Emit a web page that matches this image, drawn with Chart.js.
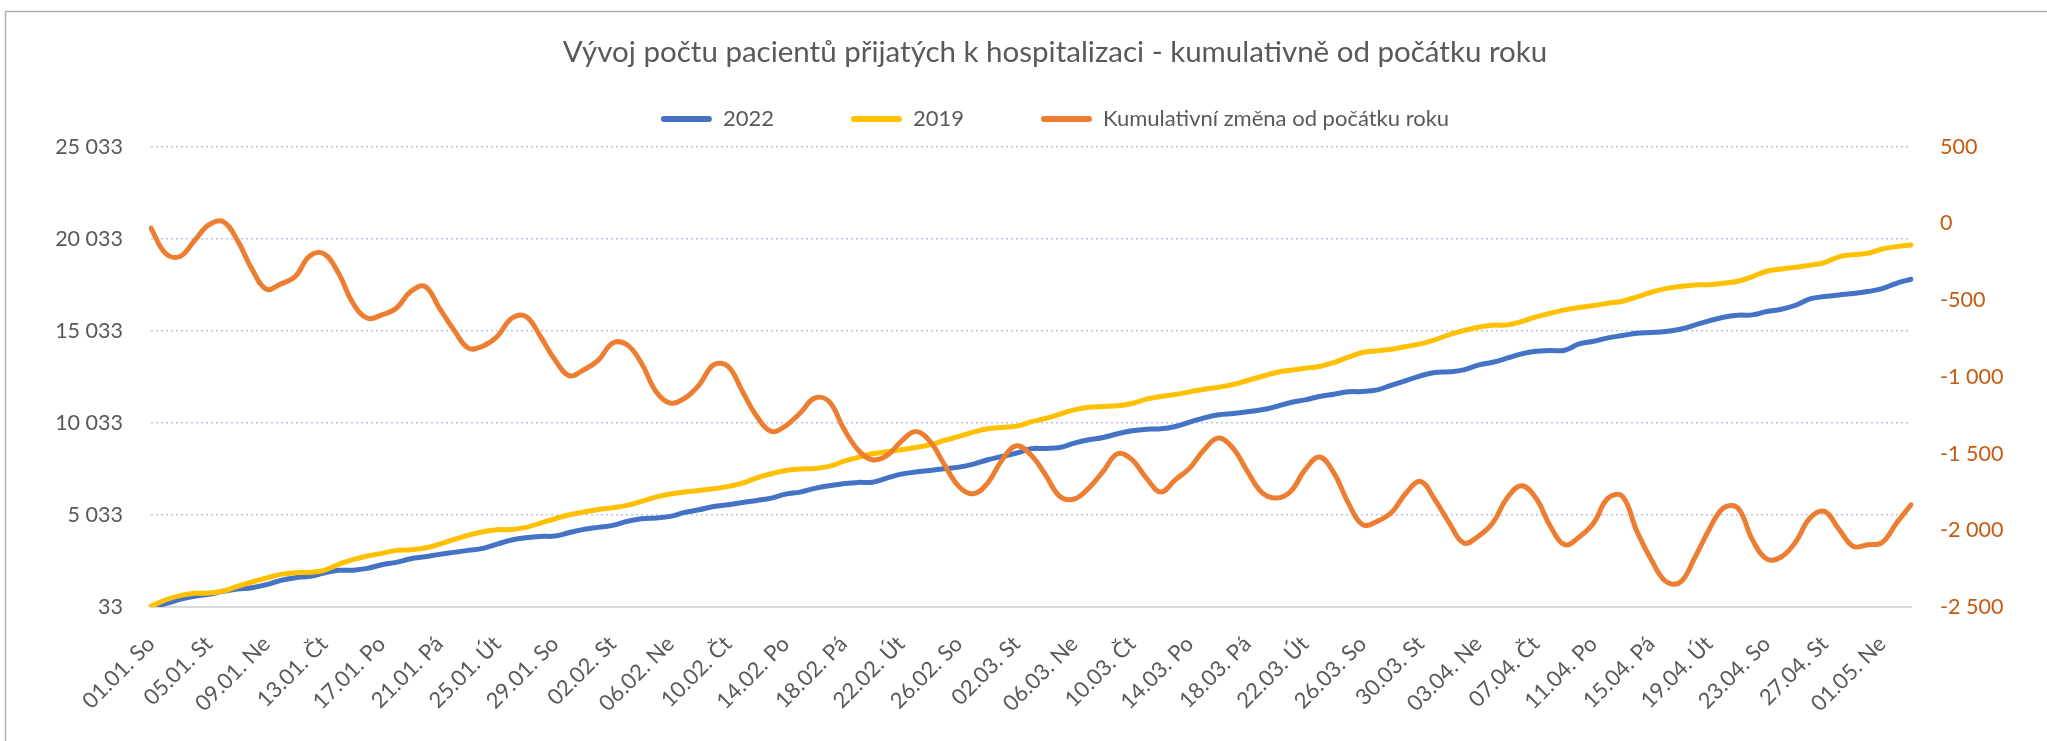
<!DOCTYPE html>
<html lang="cs">
<head>
<meta charset="utf-8">
<script src="https://cdn.jsdelivr.net/npm/chart.js@4.4.1/dist/chart.umd.min.js"></script>
<style>
  html, body { margin: 0; padding: 0; background: #fff; overflow: hidden; }
  #box { width: 2047px; height: 741px; position: relative; }
</style>
</head>
<body>
<div id="box"><canvas id="myChart"></canvas></div>
<script>
// dny 01.01. - 03.05.
const dny = [
  "01.01. So","02.01. Ne","03.01. Po","04.01. Út","05.01. St","06.01. Čt","07.01. Pá","08.01. So","09.01. Ne","10.01. Po",
  "11.01. Út","12.01. St","13.01. Čt","14.01. Pá","15.01. So","16.01. Ne","17.01. Po","18.01. Út","19.01. St","20.01. Čt",
  "21.01. Pá","22.01. So","23.01. Ne","24.01. Po","25.01. Út","26.01. St","27.01. Čt","28.01. Pá","29.01. So","30.01. Ne",
  "31.01. Po","01.02. Út","02.02. St","03.02. Čt","04.02. Pá","05.02. So","06.02. Ne","07.02. Po","08.02. Út","09.02. St",
  "10.02. Čt","11.02. Pá","12.02. So","13.02. Ne","14.02. Po","15.02. Út","16.02. St","17.02. Čt","18.02. Pá","19.02. So",
  "20.02. Ne","21.02. Po","22.02. Út","23.02. St","24.02. Čt","25.02. Pá","26.02. So","27.02. Ne","28.02. Po","01.03. Út",
  "02.03. St","03.03. Čt","04.03. Pá","05.03. So","06.03. Ne","07.03. Po","08.03. Út","09.03. St","10.03. Čt","11.03. Pá",
  "12.03. So","13.03. Ne","14.03. Po","15.03. Út","16.03. St","17.03. Čt","18.03. Pá","19.03. So","20.03. Ne","21.03. Po",
  "22.03. Út","23.03. St","24.03. Čt","25.03. Pá","26.03. So","27.03. Ne","28.03. Po","29.03. Út","30.03. St","31.03. Čt",
  "01.04. Pá","02.04. So","03.04. Ne","04.04. Po","05.04. Út","06.04. St","07.04. Čt","08.04. Pá","09.04. So","10.04. Ne",
  "11.04. Po","12.04. Út","13.04. St","14.04. Čt","15.04. Pá","16.04. So","17.04. Ne","18.04. Po","19.04. Út","20.04. St",
  "21.04. Čt","22.04. Pá","23.04. So","24.04. Ne","25.04. Po","26.04. Út","27.04. St","28.04. Čt","29.04. Pá","30.04. So",
  "01.05. Ne","02.05. Po","03.05. Út"
];

// kumulativni pocty 2022
const rok2022 = [
  40,214,449,612,720,883,1010,1082,1245,1480,
  1625,1697,1878,2023,2035,2131,2330,2457,2656,2765,
  2891,3000,3108,3217,3452,3669,3796,3868,3886,4080,
  4250,4357,4465,4682,4827,4863,4953,5171,5315,5496,
  5587,5713,5822,5948,6166,6274,6473,6618,6726,6799,
  6810,7034,7251,7360,7450,7541,7631,7794,8029,8210,
  8390,8626,8644,8698,8933,9114,9241,9440,9603,9693,
  9711,9838,10073,10308,10471,10543,10634,10742,10923,11140,
  11285,11466,11592,11719,11737,11828,12081,12334,12587,12768,
  12804,12913,13170,13329,13546,13781,13926,13962,13980,14324,
  14469,14650,14776,14903,14939,14993,15120,15337,15572,15771,
  15880,15898,16079,16205,16422,16766,16893,16983,17055,17164,
  17327,17616,17834
];

// kumulativni pocty 2019
const rok2019 = [
  72,413,648,775,790,901,1155,1390,1607,1806,
  1896,1914,2023,2349,2602,2801,2946,3108,3145,3235,
  3452,3705,3940,4121,4230,4240,4357,4592,4827,5044,
  5189,5333,5424,5550,5768,6003,6166,6274,6365,6455,
  6582,6763,7052,7269,7450,7522,7558,7667,7938,8155,
  8354,8463,8571,8698,8843,9078,9295,9530,9711,9784,
  9856,10091,10272,10507,10742,10887,10923,10959,11086,11321,
  11466,11574,11719,11864,11972,12117,12334,12551,12768,12895,
  13004,13094,13311,13601,13854,13944,14035,14180,14324,14541,
  14831,15048,15229,15337,15355,15536,15789,15988,16169,16296,
  16404,16531,16640,16875,17128,17327,17436,17526,17540,17617,
  17725,17978,18268,18394,18485,18593,18738,19046,19172,19245,
  19480,19606,19697
];

// kumulativni zmena od pocatku roku (prava osa)
const zmena = [
  -31,-194,-216,-114,-10,12,-112,-298,-429,-394,
  -346,-212,-199,-325,-520,-618,-596,-553,-444,-411,
  -553,-694,-813,-800,-737,-618,-607,-737,-889,-993,
  -954,-893,-780,-791,-911,-1095,-1171,-1139,-1052,-922,
  -932,-1095,-1258,-1356,-1319,-1236,-1139,-1160,-1334,-1475,
  -1540,-1514,-1421,-1356,-1421,-1573,-1714,-1762,-1692,-1540,
  -1449,-1510,-1638,-1779,-1796,-1725,-1616,-1501,-1540,-1660,
  -1751,-1671,-1595,-1475,-1399,-1464,-1616,-1753,-1790,-1747,
  -1605,-1523,-1627,-1823,-1964,-1942,-1883,-1757,-1681,-1801,
  -1953,-2083,-2040,-1953,-1790,-1710,-1790,-1974,-2094,-2044,
  -1953,-1790,-1779,-2007,-2192,-2333,-2339,-2181,-1996,-1855,
  -1855,-2061,-2187,-2174,-2076,-1920,-1877,-1992,-2105,-2094,
  -2079,-1953,-1834
];

// osy
const levaOsa = [33, 5033, 10033, 15033, 20033, 25033];
const pravaOsa = [-2500, -2000, -1500, -1000, -500, 0, 500];

const sedy = "#595959";
const pismo = "Lato";

function mezery(n) {
  return String(n).replace(/\B(?=(\d{3})+(?!\d))/g, " ");
}

// bile pozadi a ramecek grafu
const ramecek = {
  id: "ramecek",
  beforeDraw(chart) {
    const c = chart.ctx;
    c.save();
    c.fillStyle = "#fff";
    c.fillRect(0, 0, chart.width, chart.height);
    c.strokeStyle = "#b0b0b0";
    c.lineWidth = 1.5;
    c.strokeRect(5.5, 11.5, chart.width + 20, chart.height + 20);
    c.restore();
  }
};

const grafica = document.getElementById("myChart").getContext("2d");

const myChart = new Chart(grafica, {
  type: "line",
  data: {
    labels: dny,
    datasets: [
      {
        label: "2022",
        data: rok2022,
        yAxisID: "y",
        borderColor: "#4472C4",
        backgroundColor: "#4472C4",
        borderWidth: 5,
        order: 3
      },
      {
        label: "2019",
        data: rok2019,
        yAxisID: "y",
        borderColor: "#FFC000",
        backgroundColor: "#FFC000",
        borderWidth: 5,
        order: 2
      },
      {
        label: "Kumulativní změna od počátku roku",
        data: zmena,
        yAxisID: "y2",
        borderColor: "#ED7D31",
        backgroundColor: "#ED7D31",
        borderWidth: 5,
        order: 1
      }
    ]
  },
  options: {
    responsive: true,
    maintainAspectRatio: false,
    animation: false,
    // zaporny pravy okraj posouva stred titulku doprava
    layout: { padding: { left: 20, right: -43, top: 0, bottom: 0 } },
    elements: {
      point: { radius: 0 },
      line: { tension: 0.4, borderCapStyle: "round", borderJoinStyle: "round" }
    },
    plugins: {
      title: {
        display: true,
        text: "Vývoj počtu pacientů přijatých k hospitalizaci - kumulativně od počátku roku",
        color: sedy,
        font: { family: pismo, size: 29.5, weight: "normal" },
        padding: { top: 34.3, bottom: -38.7 }
      },
      subtitle: {
        display: true,
        text: "",
        weight: 900,
        font: { size: 1 },
        padding: { top: 0, bottom: 5.5 }
      },
      legend: {
        display: true,
        position: "top",
        labels: {
          boxWidth: 51,
          boxHeight: 6,
          padding: 77,
          useBorderRadius: true,
          borderRadius: 3,
          color: sedy,
          font: { family: pismo, size: 22 },
          sort: (a, b) => a.datasetIndex - b.datasetIndex,
          generateLabels: (chart) => {
            return Chart.defaults.plugins.legend.labels.generateLabels(chart).map((item) => {
              item.lineWidth = 0;
              return item;
            });
          }
        }
      },
      tooltip: { enabled: false }
    },
    scales: {
      x: {
        offset: false,
        grid: { display: false, drawTicks: false },
        border: { display: true, color: "#d9d9d9", width: 2 },
        ticks: {
          autoSkip: false,
          maxRotation: 45,
          minRotation: 45,
          padding: 24,
          color: sedy,
          font: { family: pismo, size: 22 },
          callback: function (value, index) {
            return index % 4 === 0 ? dny[index] : "";
          }
        },
        afterFit: (scale) => { scale.height = 134; }
      },
      y: {
        position: "left",
        min: levaOsa[0],
        max: levaOsa[levaOsa.length - 1],
        ticks: {
          stepSize: levaOsa[1] - levaOsa[0],
          padding: 28,
          color: sedy,
          font: { family: pismo, size: 21.5 },
          callback: (v) => mezery(v)
        },
        afterBuildTicks: (scale) => { scale.ticks = levaOsa.map((v) => ({ value: v })); },
        grid: {
          drawTicks: false,
          color: (ctx) => (ctx.tick && ctx.tick.value === levaOsa[0] ? "rgba(0,0,0,0)" : "#b4c7e7"),
          lineWidth: 1.5
        },
        border: { display: false, dash: [2, 3] },
        afterFit: (scale) => { scale.width = 131; }
      },
      y2: {
        position: "right",
        min: pravaOsa[0],
        max: pravaOsa[pravaOsa.length - 1],
        ticks: {
          stepSize: 500,
          padding: 29,
          color: "#C55A11",
          font: { family: pismo, size: 21.5 },
          callback: (v) => mezery(v)
        },
        afterBuildTicks: (scale) => { scale.ticks = pravaOsa.map((v) => ({ value: v })); },
        grid: { display: false, drawTicks: false },
        border: { display: false },
        afterFit: (scale) => { scale.width = 179; }
      }
    }
  },
  plugins: [ramecek]
});
</script>
</body>
</html>
